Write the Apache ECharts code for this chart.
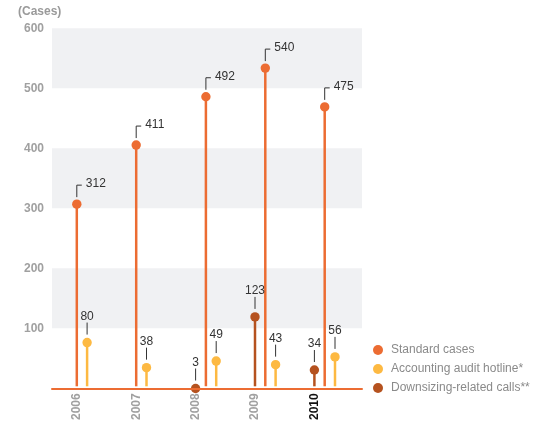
<!DOCTYPE html>
<html><head><meta charset="utf-8">
<script src="https://cdn.jsdelivr.net/npm/echarts@6/dist/echarts.min.js"></script>
<style>html,body{margin:0;padding:0;background:#fff}#c{width:550px;height:423px}</style>
</head><body><div id="c"></div>
<script>
const years = ['2006', '2007', '2008', '2009', '2010'];
const highlightYear = '2010';
const standardCases = [312, 411, 492, 540, 475];
const auditHotline = [80, 38, 49, 43, 56];
const downsizingCalls = [null, null, 3, 123, 34];
const seriesNames = ['Standard cases', 'Accounting audit hotline*', 'Downsizing-related calls**'];
const unitLabel = '(Cases)';

const FONT = '"Liberation Sans", Arial, Helvetica, sans-serif';
const C_STD = '#EC6C32', C_ACC = '#FDB942', C_DWN = '#B5521F';
const SLOT_GAP = 10.3, DROP = 4, R = 4.7;

function makeRender(kind, color) {
  return function (params, api) {
    const i = api.value(0), v = api.value(1);
    const hasD = downsizingCalls[i] != null;
    const slot = kind === 'd' ? 0 : kind === 's' ? (hasD ? 1 : 0) : (hasD ? 2 : 1);
    const top = api.coord([i, v]);
    const base = api.coord([i, 0]);
    const x = top[0] + slot * SLOT_GAP;
    const cy = top[1] + DROP;
    const children = [
      { type: 'line', shape: { x1: x, y1: cy, x2: x, y2: base[1] }, style: { stroke: color, lineWidth: 2.5 } },
      { type: 'circle', shape: { cx: x, cy: cy, r: R }, style: { fill: color } }
    ];
    if (kind === 's') {
      children.push({ type: 'polyline', shape: { points: [[x, cy - 7], [x, cy - 19], [x + 5, cy - 19]] },
        style: { stroke: '#333', lineWidth: 1, fill: null } });
      children.push({ type: 'text', style: { text: String(v), x: x + 9, y: cy - 20, align: 'left', verticalAlign: 'middle',
        fill: '#333', fontSize: 12, fontFamily: FONT } });
    } else {
      children.push({ type: 'line', shape: { x1: x, y1: cy - 8, x2: x, y2: cy - 20 }, style: { stroke: '#333', lineWidth: 1 } });
      children.push({ type: 'text', style: { text: String(v), x: x, y: cy - 26, align: 'center', verticalAlign: 'middle',
        fill: '#333', fontSize: 12, fontFamily: FONT } });
    }
    return { type: 'group', children };
  };
}

function toData(arr) {
  return arr.map((v, i) => (v == null ? null : [i, v])).filter(d => d);
}

const chart = echarts.init(document.getElementById('c'), null, { renderer: 'canvas' });
chart.setOption({
  animation: false,
  backgroundColor: '#fff',
  textStyle: { fontFamily: FONT },
  title: { text: unitLabel, left: 18, top: 6, padding: 0,
    textStyle: { fontSize: 12, fontWeight: 'bold', color: '#9a9a9a', fontFamily: FONT } },
  legend: {
    data: seriesNames, orient: 'vertical', left: 373, top: 344, icon: 'circle',
    itemWidth: 10, itemHeight: 10, itemGap: 7, padding: 0,
    textStyle: { color: '#8a8a8a', fontSize: 12, fontFamily: FONT, padding: [0, 0, 0, 3] }
  },
  grid: [
    { left: 52, right: 188, top: 28.3, bottom: 34.7 },
    { left: 47.1, right: 205.9, top: 28.3, bottom: 34.7 }
  ],
  xAxis: [
    { type: 'category', gridIndex: 0, data: years, axisLabel: { show: false }, axisTick: { show: false },
      axisLine: { show: true, lineStyle: { color: C_STD, width: 2 } }, z: 5 },
    { type: 'category', gridIndex: 1, data: years.map(y => y === highlightYear
        ? { value: y, textStyle: { fontWeight: 'bold', color: '#111' } } : y),
      axisLine: { show: false }, axisTick: { show: false },
      axisLabel: { rotate: 90, margin: 7, fontSize: 12, fontWeight: 'bold', color: '#a0a0a0', fontFamily: FONT } }
  ],
  yAxis: [
    { type: 'value', gridIndex: 0, min: 0, max: 600, interval: 100,
      axisLine: { show: false }, axisTick: { show: false }, splitLine: { show: false },
      splitArea: { show: true, areaStyle: { color: ['rgba(0,0,0,0)', '#F0F1F3'] } },
      axisLabel: { margin: 8, fontSize: 12, fontWeight: 'bold', color: '#a0a0a0', fontFamily: FONT,
        formatter: v => (v === 0 ? '' : String(v)) } },
    { type: 'value', gridIndex: 1, min: 0, max: 600, interval: 100, show: false }
  ],
  series: [
    { name: seriesNames[0], type: 'custom', xAxisIndex: 1, yAxisIndex: 1, clip: false, z: 3,
      itemStyle: { color: C_STD }, renderItem: makeRender('s', C_STD), data: toData(standardCases), encode: { x: 0, y: 1 } },
    { name: seriesNames[1], type: 'custom', xAxisIndex: 1, yAxisIndex: 1, clip: false, z: 3,
      itemStyle: { color: C_ACC }, renderItem: makeRender('a', C_ACC), data: toData(auditHotline), encode: { x: 0, y: 1 } },
    { name: seriesNames[2], type: 'custom', xAxisIndex: 1, yAxisIndex: 1, clip: false, z: 3,
      itemStyle: { color: C_DWN }, renderItem: makeRender('d', C_DWN), data: toData(downsizingCalls), encode: { x: 0, y: 1 } }
  ]
});
</script></body></html>
